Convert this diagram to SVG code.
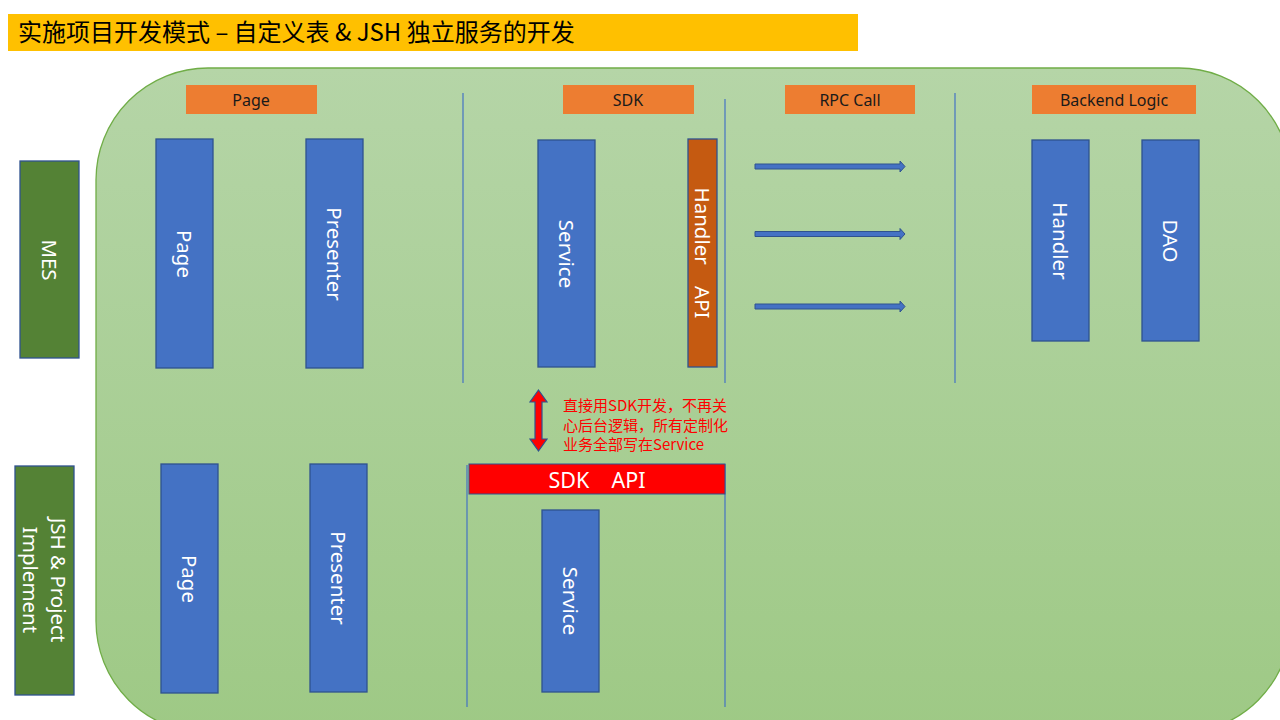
<svg xmlns="http://www.w3.org/2000/svg" width="1280" height="720" viewBox="0 0 1280 720">
<defs>
<linearGradient id="bg" x1="0" y1="0" x2="0" y2="1">
<stop offset="0" stop-color="#b5d5a7"/>
<stop offset="1" stop-color="#9ec985"/>
</linearGradient>
<style>
.hdr{fill:#ed7d31}
.hdrt{font-family:"Noto Sans","Liberation Sans",sans-serif;font-size:16px;fill:#1a1a1a;text-anchor:middle}
.box{fill:#4472c4;stroke:#2f528f;stroke-width:1.3}
.grn{fill:#548235;stroke:#2f528f;stroke-width:1.3}
.org{fill:#c55a11;stroke:#2f528f;stroke-width:1.3}
.vt{font-family:"Noto Sans","Liberation Sans",sans-serif;font-size:20.5px;fill:#ffffff;text-anchor:middle;dominant-baseline:central}
.sep{stroke:#4472c4;stroke-width:1.2;fill:none}
.arr{fill:#4472c4;stroke:#2f528f;stroke-width:1}
.note{font-family:"Noto Sans CJK SC","Noto Sans",sans-serif;font-size:15px;fill:#ff0000}
</style>
</defs>
<rect width="1280" height="720" fill="#ffffff"/>
<g id="title">
<rect x="8" y="14" width="850" height="37" fill="#ffc000"/>
<text x="18" y="41" font-family="Noto Sans CJK SC,Noto Sans,sans-serif" font-size="24" fill="#000000">实施项目开发模式 – 自定义表 &amp; JSH 独立服务的开发</text>
</g>
<g id="background">
<rect x="96" y="68" width="1195" height="665" rx="112" ry="112" fill="url(#bg)" stroke="#70ad47" stroke-width="1.3"/>
</g>
<g id="separators">
<line class="sep" x1="463" y1="93" x2="463" y2="383"/>
<line class="sep" x1="725" y1="99" x2="725" y2="383"/>
<line class="sep" x1="955" y1="93" x2="955" y2="383"/>
<line class="sep" x1="467" y1="465" x2="467" y2="707"/>
<line class="sep" x1="725" y1="464" x2="725" y2="707"/>
</g>
<g id="header-page"><rect class="hdr" x="186" y="85" width="131" height="29"/><text class="hdrt" x="251" y="106">Page</text></g>
<g id="header-sdk"><rect class="hdr" x="563" y="85" width="131" height="29"/><text class="hdrt" x="628" y="106">SDK</text></g>
<g id="header-rpc"><rect class="hdr" x="785" y="85" width="130" height="29"/><text class="hdrt" x="850" y="106">RPC Call</text></g>
<g id="header-backend"><rect class="hdr" x="1032" y="85" width="164" height="29"/><text class="hdrt" x="1114" y="106">Backend Logic</text></g>
<g id="mes"><rect class="grn" x="20" y="161" width="59" height="197"/><text class="vt" transform="translate(49.5,260) rotate(90)">MES</text></g>
<g id="jsh"><rect class="grn" x="15" y="466" width="59" height="229"/><text class="vt" transform="translate(44.5,580) rotate(90)"><tspan x="0" y="-14">JSH &amp; Project</tspan><tspan x="0" y="14">Implement</tspan></text></g>
<g id="page-top"><rect class="box" x="156" y="139" width="57" height="229"/><text class="vt" transform="translate(184.5,254) rotate(90)">Page</text></g>
<g id="presenter-top"><rect class="box" x="306" y="139" width="57" height="229"/><text class="vt" transform="translate(334.5,254) rotate(90)">Presenter</text></g>
<g id="service-top"><rect class="box" x="538" y="140" width="57" height="227"/><text class="vt" transform="translate(566.5,254) rotate(90)">Service</text></g>
<g id="handler-api"><rect class="org" x="688" y="139" width="29" height="228"/><text class="vt" transform="translate(702.5,253) rotate(90)" xml:space="preserve">Handler    API</text></g>
<g id="handler"><rect class="box" x="1032" y="140" width="57" height="201"/><text class="vt" transform="translate(1060.5,241) rotate(90)">Handler</text></g>
<g id="dao"><rect class="box" x="1142" y="140" width="57" height="201"/><text class="vt" transform="translate(1170.5,241) rotate(90)">DAO</text></g>
<g id="page-bottom"><rect class="box" x="161" y="464" width="57" height="229"/><text class="vt" transform="translate(189.5,579) rotate(90)">Page</text></g>
<g id="presenter-bottom"><rect class="box" x="310" y="464" width="57" height="228"/><text class="vt" transform="translate(338.5,578) rotate(90)">Presenter</text></g>
<g id="sdk-api"><rect x="469" y="464" width="256" height="30" fill="#ff0000" stroke="#2f528f" stroke-width="1"/><text x="597" y="487.5" font-family="Noto Sans,Liberation Sans,sans-serif" font-size="21.5" fill="#ffffff" text-anchor="middle" xml:space="preserve">SDK    API</text></g>
<g id="service-bottom"><rect class="box" x="542" y="510" width="57" height="182"/><text class="vt" transform="translate(570.5,601) rotate(90)">Service</text></g>
<g id="note"><text class="note"><tspan x="563" y="411">直接用SDK开发，不再关</tspan><tspan x="563" y="431">心后台逻辑，所有定制化</tspan><tspan x="563" y="450">业务全部写在Service</tspan></text></g>
<g id="connectors">
<polygon class="arr" points="755,164 900,164 900,161 905,166.5 900,172 900,169 755,169"/>
<polygon class="arr" points="755,231.5 900,231.5 900,228.5 905,234 900,239.5 900,236.5 755,236.5"/>
<polygon class="arr" points="755,304 900,304 900,301 905,306.5 900,312 900,309 755,309"/>
<polygon points="538.5,390 547,402 542,402 542,439 547,439 538.5,451 530,439 535,439 535,402 530,402" fill="#ff0000" stroke="#2f528f" stroke-width="1.2"/>
</g>
</svg>
